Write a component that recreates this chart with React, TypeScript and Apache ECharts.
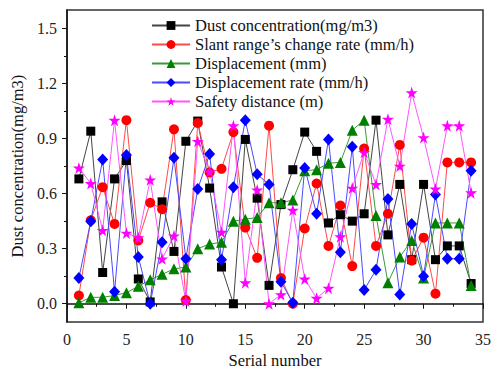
import React, { useEffect, useRef } from "react";
import * as echarts from "echarts";

const serial = Array.from({ length: 34 }, (_, i) => i + 1);

const dustConcentration = [0.68, 0.94, 0.17, 0.68, 0.78, 0.135, 0.01, 0.555, 0.285, 0.885, 0.995, 0.63, 0.2, 0.0, 0.895, 0.575, 0.1, 0.54, 0.73, 0.935, 0.83, 0.44, 0.485, 0.45, 0.49, 1.0, 0.375, 0.65, 0.24, 0.65, 0.24, 0.315, 0.315, 0.11];
const slantRate = [0.045, 0.455, 0.635, 0.435, 1.0, 0.345, 0.55, 0.515, 0.95, 0.02, 0.985, 0.715, 0.735, 0.935, 0.415, 0.25, 0.97, 0.14, 0.0, 0.41, 0.655, 0.315, 0.535, 0.205, 0.845, 0.315, 0.49, 0.865, 0.235, 0.36, 0.055, 0.77, 0.77, 0.77];
const displacement = [0.005, 0.035, 0.035, 0.045, 0.06, 0.095, 0.13, 0.16, 0.19, 0.2, 0.3, 0.325, 0.335, 0.45, 0.46, 0.47, 0.55, 0.55, 0.565, 0.725, 0.73, 0.765, 0.77, 0.945, 1.0, 0.48, 0.115, 0.255, 0.345, 0.14, 0.44, 0.44, 0.44, 0.1];
const displacementRate = [0.14, 0.45, 0.785, 0.065, 0.81, 0.255, 0.0, 0.335, 0.795, 0.245, 0.625, 0.815, 0.24, 0.635, 1.0, 0.705, 0.65, 0.12, 0.005, 0.74, 0.49, 0.895, 0.28, 0.855, 0.075, 0.185, 0.57, 0.05, 0.435, 0.15, 0.595, 0.245, 0.245, 0.725];
const safetyDistance = [0.74, 0.655, 0.4, 1.0, 0.385, 0.36, 0.675, 0.245, 0.37, 0.015, 0.885, 0.72, 0.39, 0.97, 0.115, 0.62, 0.0, 0.05, 0.51, 0.135, 0.03, 0.085, 0.365, 0.63, 0.825, 0.65, 1.005, 0.75, 1.15, 0.905, 0.625, 0.97, 0.97, 0.605];

const yMajorTicks = [0, 0.3, 0.6, 0.9, 1.2, 1.5];
const yMinorTicks = [0.15, 0.45, 0.75, 1.05, 1.35];

const seriesNames = [
  "Dust concentration(mg/m3)",
  "Slant range\u2019s change rate (mm/h)",
  "Displacement (mm)",
  "Displacement rate (mm/h)",
  "Safety distance (m)",
];

const STAR = "path://M50,0 L61,35 L98,35 L68,57 L79,91 L50,70 L21,91 L32,57 L2,35 L39,35 Z";
const FONT = "'Liberation Serif', 'Times New Roman', serif";

export default function App() {
  const ref = useRef<HTMLDivElement>(null);
  useEffect(() => {
    if (!ref.current) return;
    const chart = echarts.init(ref.current, null, { renderer: "svg" });
    const pairs = (arr: number[]) => arr.map((v, i) => [serial[i], v]);
    const mk = (name: string, data: number[], color: string, symbol: string, size: any, lineColor: string) => ({
      name,
      type: "line",
      data: pairs(data),
      symbol,
      symbolSize: size,
      itemStyle: { color },
      lineStyle: { color: lineColor, width: 1 },
      emphasis: { disabled: true },
    });
    chart.setOption({
      animation: false,
      textStyle: { fontFamily: FONT },
      grid: { left: 67, right: 9, top: 10, bottom: 50, show: true, borderColor: "#333", borderWidth: 1.5, backgroundColor: "transparent" },
      legend: {
        orient: "vertical",
        left: 146,
        top: 11,
        itemWidth: 38,
        itemHeight: 11,
        itemGap: 0,
        textStyle: { fontFamily: FONT, fontSize: 16.5, color: "#111", lineHeight: 19 },
        data: seriesNames,
      },
      xAxis: {
        type: "value",
        min: 0,
        max: 35,
        interval: 5,
        name: "Serial number",
        nameLocation: "middle",
        nameGap: 26,
        nameTextStyle: { fontFamily: FONT, fontSize: 16.5, color: "#111" },
        axisLine: { lineStyle: { color: "#111", width: 1.5 } },
        axisTick: { length: 5, lineStyle: { color: "#111" } },
        minorTick: { show: true, splitNumber: 2, length: 3, lineStyle: { color: "#111" } },
        axisLabel: { fontFamily: FONT, fontSize: 16, color: "#222", margin: 9 },
        splitLine: { show: false },
      },
      yAxis: [
        {
          type: "value",
          min: -0.1,
          max: 1.6,
          name: "Dust concentration(mg/m3)",
          nameLocation: "middle",
          nameGap: 37,
          nameTextStyle: { fontFamily: FONT, fontSize: 16.5, color: "#111" },
          axisLine: { show: true, lineStyle: { color: "#111", width: 1.5 } },
          axisTick: { show: true, length: 5, customValues: yMajorTicks, lineStyle: { color: "#111" } },
          axisLabel: { fontFamily: FONT, fontSize: 16, color: "#222", margin: 10, customValues: yMajorTicks, formatter: (v: number) => v.toFixed(1) },
          splitLine: { show: false },
        },
        {
          type: "value",
          min: -0.1,
          max: 1.6,
          position: "left",
          axisLine: { show: false },
          axisTick: { show: true, length: 3, customValues: yMinorTicks, lineStyle: { color: "#111" } },
          axisLabel: { show: false },
          splitLine: { show: false },
        },
      ],
      series: [
        mk(seriesNames[0], dustConcentration, "#000000", "rect", 9, "#444444"),
        mk(seriesNames[1], slantRate, "#ff0000", "circle", 10, "#ff4a4a"),
        mk(seriesNames[2], displacement, "#008000", "triangle", 11, "#3a9a3a"),
        mk(seriesNames[3], displacementRate, "#0000ff", "diamond", [11, 12], "#4a4aff"),
        mk(seriesNames[4], safetyDistance, "#ff00ff", STAR, 12, "#ff55ff"),
      ],
    });
    return () => chart.dispose();
  }, []);
  return <div ref={ref} style={{ position: "fixed", left: 0, top: 0, width: 494, height: 374, background: "#fff" }} />;
}
